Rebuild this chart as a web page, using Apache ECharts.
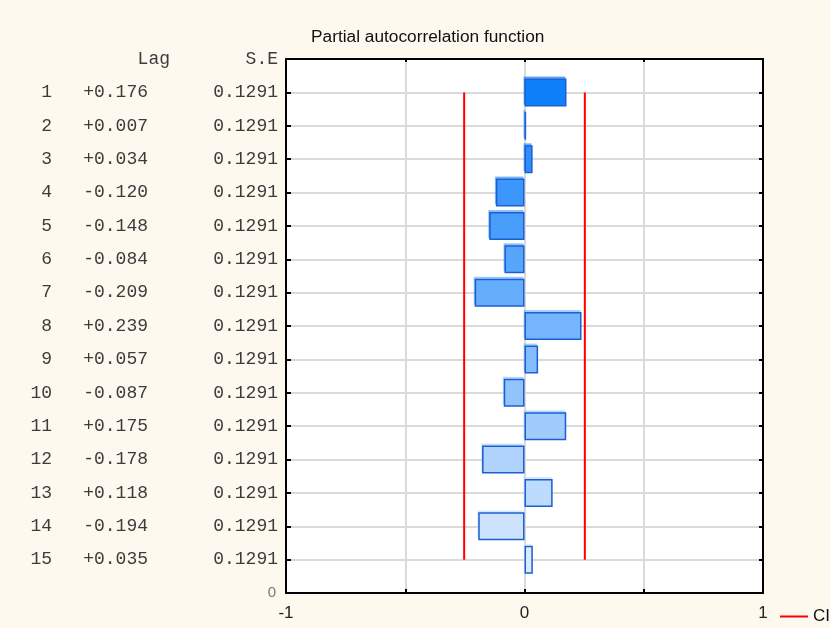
<!DOCTYPE html>
<html>
<head>
<meta charset="utf-8">
<title>Partial autocorrelation function</title>
<script src="https://cdn.jsdelivr.net/npm/echarts@6/dist/echarts.min.js"></script>
<style>
  html, body { margin: 0; padding: 0; background: #fdf9ef; }
  #chart { width: 830px; height: 628px; }
</style>
</head>
<body>
<div id="chart"></div>
<script>
// Lags and their partial autocorrelations with standard errors
const lags = [1, 2, 3, 4, 5, 6, 7, 8, 9, 10, 11, 12, 13, 14, 15];
const pacfValues = [0.176, 0.007, 0.034, -0.120, -0.148, -0.084, -0.209, 0.239,
                    0.057, -0.087, 0.175, -0.178, 0.118, -0.194, 0.035];
const seValues = [0.1291, 0.1291, 0.1291, 0.1291, 0.1291, 0.1291, 0.1291, 0.1291,
                  0.1291, 0.1291, 0.1291, 0.1291, 0.1291, 0.1291, 0.1291];
// Confidence limit drawn as two red vertical lines
const ciLimit = 0.253;
const xTickLabels = ['-1', '0', '1'];

// Category rows from bottom to top: baseline, lag 15 ... lag 1, header row
const yCats = ['base'].concat(lags.slice().reverse().map(String), ['head']);
const nRows = yCats.length;

function lagOfIndex(i) { return nRows - 1 - i; }

// Fill shade goes from saturated blue (lag 1) to pale blue (last lag)
const colStart = [15, 128, 250];
const colEnd = [218, 234, 253];
function mix(k) {
  const t = (k - 1) / (lags.length - 1);
  return colStart.map((s, j) => Math.round(s + (colEnd[j] - s) * t));
}
function shade(k) { return 'rgb(' + mix(k).join(',') + ')'; }
function shadeA(k, a) { return 'rgba(' + mix(k).join(',') + ',' + a + ')'; }

const barData = lags.map((k, i) => ({
  value: [pacfValues[i], String(k)],
  itemStyle: {
    color: shade(k),
    borderColor: '#1b5fd2',
    borderWidth: 1.5,
    shadowColor: shadeA(k, 0.55),
    shadowOffsetX: -1,
    shadowOffsetY: -2,
    shadowBlur: 0
  }
}));

const firstLag = String(lags[0]);
const lastLag = String(lags[lags.length - 1]);

const chart = echarts.init(document.getElementById('chart'), null, { renderer: 'canvas' });

const monoFont = '"Liberation Mono", "DejaVu Sans Mono", monospace';
const sansFont = '"Liberation Sans", Arial, sans-serif';
const tableColor = '#3c3c3c';

chart.setOption({
  backgroundColor: '#fdf9ef',
  animation: false,
  title: {
    text: 'Partial autocorrelation function',
    left: 306,
    top: 24,
    textStyle: { fontFamily: sansFont, fontSize: 17.3, fontWeight: 'normal', color: '#111' }
  },
  legend: {
    data: [{ name: 'CI', icon: 'rect' }],
    left: 775,
    top: 603,
    itemWidth: 28,
    itemHeight: 2,
    itemGap: 5,
    textStyle: { fontFamily: sansFont, fontSize: 17, color: '#111' }
  },
  grid: { left: 286, right: 67, top: 59, bottom: 35, backgroundColor: '#ffffff', show: true, borderWidth: 0 },
  xAxis: [
    {
      type: 'value',
      min: -1,
      max: 1,
      interval: 0.5,
      position: 'bottom',
      axisLine: { show: true, onZero: false, lineStyle: { color: '#000', width: 2 } },
      axisTick: { show: true, inside: true, length: 4, lineStyle: { color: '#000', width: 2 } },
      axisLabel: {
        margin: 12,
        fontFamily: sansFont,
        fontSize: 17,
        color: '#222',
        formatter: function (v) {
          const s = String(Math.round(v * 100) / 100);
          return xTickLabels.indexOf(s) >= 0 ? s : '';
        }
      },
      splitLine: { show: true, lineStyle: { color: '#dadada', width: 2 } }
    },
    {
      type: 'value',
      min: -1,
      max: 1,
      interval: 0.5,
      position: 'top',
      axisLine: { show: true, onZero: false, lineStyle: { color: '#000', width: 2 } },
      axisTick: { show: true, inside: true, length: 3, lineStyle: { color: '#000', width: 2 } },
      axisLabel: { show: false },
      splitLine: { show: false }
    }
  ],
  yAxis: [
    {
      type: 'category',
      data: yCats,
      boundaryGap: false,
      position: 'left',
      axisLine: { show: true, onZero: false, lineStyle: { color: '#000', width: 2 } },
      axisTick: { show: true, inside: true, length: 5, interval: 0, lineStyle: { color: '#000', width: 2 } },
      splitLine: { show: true, interval: 0, lineStyle: { color: '#dadada', width: 2 } },
      axisLabel: {
        interval: 0,
        margin: 8,
        formatter: function (val, idx) {
          if (idx === 0) return '{z|0}';
          if (idx === nRows - 1) return '{ha|}{hb|Lag}{hc|S.E}';
          const k = lagOfIndex(idx);
          const v = pacfValues[k - 1];
          const txt = (v >= 0 ? '+' : '') + v.toFixed(3);
          return '{a|' + k + '}{b|' + txt + '}{c|' + seValues[k - 1].toFixed(4) + '}';
        },
        rich: {
          a: { width: 40, align: 'right', fontFamily: monoFont, fontSize: 18, color: tableColor },
          b: { width: 96, align: 'right', fontFamily: monoFont, fontSize: 18, color: tableColor },
          c: { width: 130, align: 'right', fontFamily: monoFont, fontSize: 18, color: tableColor },
          ha: { width: 40, align: 'right', fontFamily: monoFont, fontSize: 18, color: tableColor },
          hb: { width: 118, align: 'right', fontFamily: monoFont, fontSize: 18, color: tableColor },
          hc: { width: 108, align: 'right', fontFamily: monoFont, fontSize: 18, color: tableColor },
          z: { fontFamily: sansFont, fontSize: 15, color: '#777', padding: [0, 2, 0, 0] }
        }
      }
    },
    {
      type: 'category',
      data: yCats,
      boundaryGap: false,
      position: 'right',
      axisLine: { show: true, onZero: false, lineStyle: { color: '#000', width: 2 } },
      axisTick: { show: true, inside: true, length: 4, interval: 0, lineStyle: { color: '#000', width: 2 } },
      axisLabel: { show: false },
      splitLine: { show: false }
    }
  ],
  series: [
    {
      name: 'PACF',
      type: 'bar',
      xAxisIndex: 0,
      yAxisIndex: 0,
      barWidth: 28,
      data: barData,
      z: 3
    },
    {
      name: 'CI',
      type: 'line',
      xAxisIndex: 0,
      yAxisIndex: 0,
      symbol: 'none',
      color: '#ff0000',
      lineStyle: { color: '#ff0000', width: 2 },
      data: [[-ciLimit, firstLag], [-ciLimit, lastLag]],
      z: 4
    },
    {
      name: 'CI',
      type: 'line',
      xAxisIndex: 0,
      yAxisIndex: 0,
      symbol: 'none',
      color: '#ff0000',
      lineStyle: { color: '#ff0000', width: 2 },
      data: [[ciLimit, firstLag], [ciLimit, lastLag]],
      z: 4
    }
  ]
});
</script>
</body>
</html>
